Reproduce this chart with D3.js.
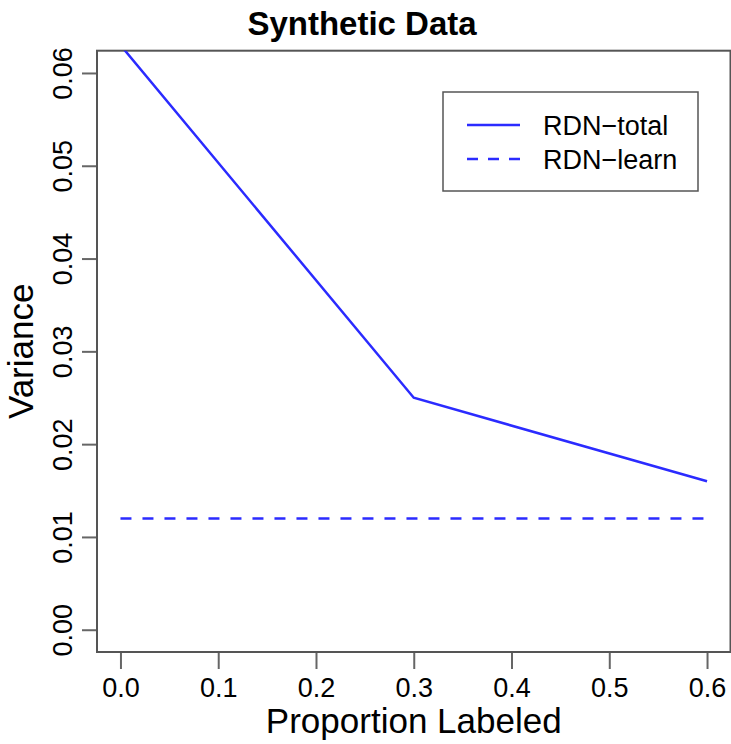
<!DOCTYPE html>
<html>
<head>
<meta charset="utf-8">
<script src="https://cdn.jsdelivr.net/npm/d3@7"></script>
<style>
  body { margin: 0; background: #fff; }
  text { font-family: "Liberation Sans", Arial, Helvetica, sans-serif; fill: #000; }
</style>
</head>
<body>
<div id="chart"></div>
<script>
// data
let proportions = [0.0, 0.3, 0.6];
let rdnTotal = [0.063, 0.025, 0.016];
let rdnLearn = [0.012, 0.012, 0.012];
let xTicks = [0.0, 0.1, 0.2, 0.3, 0.4, 0.5, 0.6];
let yTicks = [0.00, 0.01, 0.02, 0.03, 0.04, 0.05, 0.06];
let seriesNames = ["RDN\u2212total", "RDN\u2212learn"];

let width = 731, height = 744;
let plot = {left: 97, right: 730.5, top: 50.7, bottom: 652};

let svg = d3.select("#chart").append("svg")
    .attr("width", width)
    .attr("height", height);

// R style 4% padding on both axes
let xPad = 0.04 * (d3.max(xTicks) - d3.min(xTicks));
let yPad = 0.04 * (d3.max(yTicks) - d3.min(yTicks));

let xScale = d3.scaleLinear()
    .domain([d3.min(xTicks) - xPad, d3.max(xTicks) + xPad])
    .range([plot.left, plot.right]);
let yScale = d3.scaleLinear()
    .domain([d3.min(yTicks) - yPad, d3.max(yTicks) + yPad])
    .range([plot.bottom, plot.top]);

svg.append("defs").append("clipPath").attr("id", "clip")
    .append("rect")
    .attr("x", plot.left).attr("y", plot.top)
    .attr("width", plot.right - plot.left)
    .attr("height", plot.bottom - plot.top);

//axes
let xAxis = svg.append("g")
    .attr("transform", "translate(0," + plot.bottom + ")")
    .call(d3.axisBottom(xScale).tickValues(xTicks).tickSize(17).tickFormat(d3.format(".1f")));
xAxis.select(".domain").remove();
xAxis.selectAll(".tick line").attr("stroke", "#666").attr("stroke-width", 2);
xAxis.selectAll(".tick text")
    .attr("y", 45).attr("dy", 0)
    .style("font-size", "27px");

let yAxis = svg.append("g")
    .attr("transform", "translate(" + plot.left + ",0)")
    .call(d3.axisLeft(yScale).tickValues(yTicks).tickSize(15).tickFormat(d3.format(".2f")));
yAxis.select(".domain").remove();
yAxis.selectAll(".tick line").attr("stroke", "#666").attr("stroke-width", 2);
yAxis.selectAll(".tick text")
    .attr("x", 0).attr("dy", 0)
    .attr("transform", "translate(-25,0) rotate(-90)")
    .attr("text-anchor", "middle")
    .style("font-size", "27px");

// box
svg.append("rect")
    .attr("x", plot.left).attr("y", plot.top)
    .attr("width", plot.right - plot.left)
    .attr("height", plot.bottom - plot.top)
    .attr("fill", "none")
    .attr("stroke", "#555")
    .attr("stroke-width", 2);

//lines
let lineTotal = d3.line()
    .x((d, i) => xScale(proportions[i]))
    .y(d => yScale(d));

let lines = svg.append("g").attr("clip-path", "url(#clip)");
lines.append("path")
    .attr("d", lineTotal(rdnTotal))
    .attr("fill", "none")
    .attr("stroke", "#2b2bff")
    .attr("stroke-width", 2.5);
lines.append("path")
    .attr("d", lineTotal(rdnLearn))
    .attr("fill", "none")
    .attr("stroke", "#2b2bff")
    .attr("stroke-width", 2.5)
    .attr("stroke-dasharray", "11,11");

//legend
let legend = svg.append("g").attr("transform", "translate(443,92)");
legend.append("rect")
    .attr("width", 255).attr("height", 99)
    .attr("fill", "#fff")
    .attr("stroke", "#555")
    .attr("stroke-width", 1.5);
seriesNames.forEach(function (name, i) {
    let ly = 33 + i * 34;
    legend.append("line")
        .attr("x1", 24).attr("x2", 77)
        .attr("y1", ly).attr("y2", ly)
        .attr("stroke", "#2b2bff")
        .attr("stroke-width", 2.5)
        .attr("stroke-dasharray", i === 1 ? "11,10" : null);
    legend.append("text")
        .attr("x", 100).attr("y", ly + 9.5)
        .style("font-size", "27px")
        .text(name);
});

//titles
svg.append("text")
    .attr("x", 362).attr("y", 35)
    .attr("text-anchor", "middle")
    .style("font-size", "33px")
    .style("font-weight", "bold")
    .text("Synthetic Data");

svg.append("text")
    .attr("x", (plot.left + plot.right) / 2).attr("y", 733)
    .attr("text-anchor", "middle")
    .style("font-size", "35px")
    .text("Proportion Labeled");

svg.append("text")
    .attr("transform", "translate(33," + (plot.top + plot.bottom) / 2 + ") rotate(-90)")
    .attr("text-anchor", "middle")
    .style("font-size", "35px")
    .text("Variance");
</script>
</body>
</html>
